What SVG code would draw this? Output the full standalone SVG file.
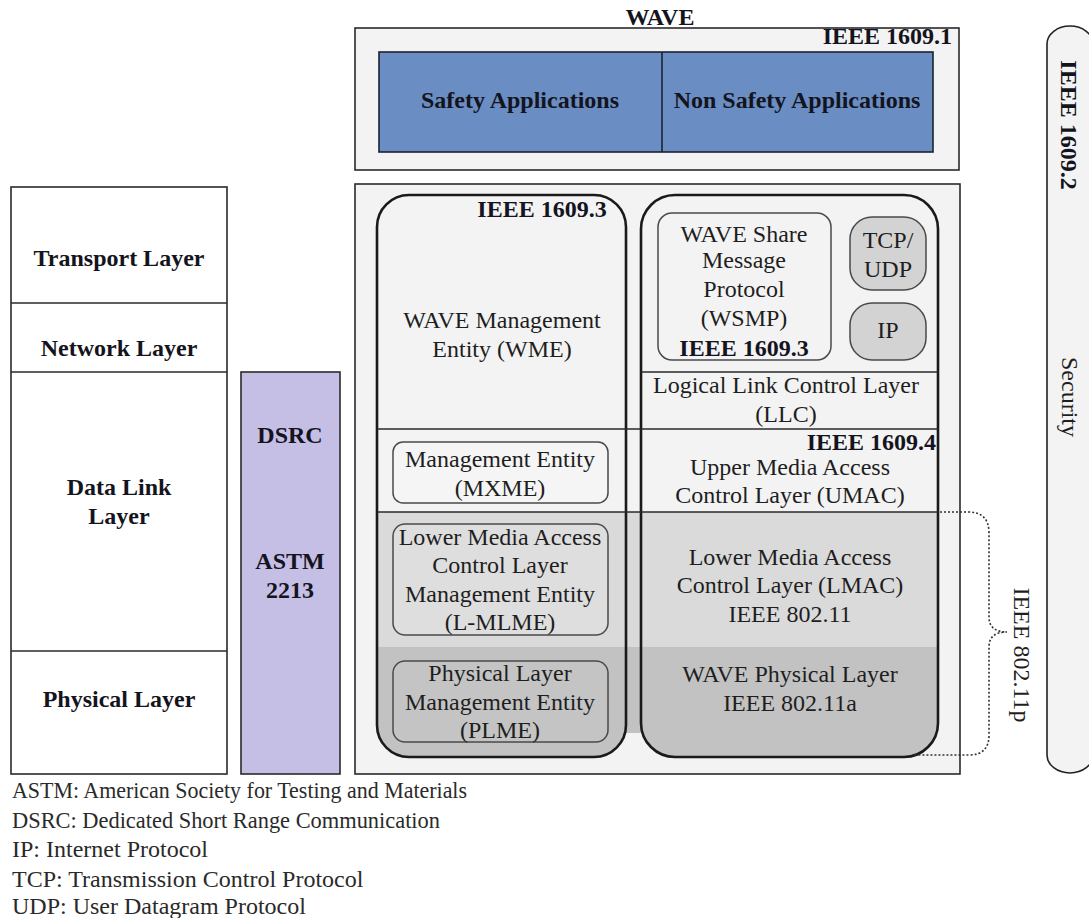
<svg xmlns="http://www.w3.org/2000/svg" width="1089" height="918" viewBox="0 0 1089 918">
  <style>
    text { font-family: "Liberation Serif", "Times New Roman", serif; font-size: 24px; fill: #1e1e1e; }
    .m { text-anchor: middle; }
    .e { text-anchor: end; }
    .b { font-weight: bold; fill: #141420; }
    .note { fill: #2a2a2a; }
    .panel { fill: #f3f3f3; stroke: #2a2a2a; stroke-width: 1.6; }
    .plain { fill: #ffffff; stroke: #2a2a2a; stroke-width: 1.6; }
    .stack { fill: none; stroke: #1a1a1a; stroke-width: 2.6; }
    .inner { stroke: #4a4a4a; stroke-width: 1.5; }
    .rule { stroke: #2a2a2a; stroke-width: 1.6; fill: none; }
  </style>
  <defs>
    <clipPath id="stackClip">
      <rect x="377" y="195" width="249" height="562" rx="32" ry="32"/>
      <rect x="641" y="195" width="297" height="562" rx="34" ry="34"/>
      <rect x="626" y="512" width="15" height="221"/>
    </clipPath>
  </defs>

  <rect width="1089" height="918" fill="#ffffff"/>

  <!-- OSI reference layers -->
  <g id="osi-layers">
    <rect class="plain" x="11" y="187" width="216" height="587"/>
    <line class="rule" x1="11" y1="303" x2="227" y2="303"/>
    <line class="rule" x1="11" y1="372" x2="227" y2="372"/>
    <line class="rule" x1="11" y1="651" x2="227" y2="651"/>
    <text class="m b" x="119" y="266">Transport Layer</text>
    <text class="m b" x="119" y="356">Network Layer</text>
    <text class="m b" x="119" y="495">Data Link</text>
    <text class="m b" x="119" y="524">Layer</text>
    <text class="m b" x="119" y="707">Physical Layer</text>
  </g>

  <!-- DSRC / ASTM column -->
  <g id="dsrc">
    <rect x="241" y="372" width="99" height="402" fill="#c5bfe6" stroke="#2a2a2a" stroke-width="1.6"/>
    <text class="m b" x="290" y="443">DSRC</text>
    <text class="m b" x="290" y="569">ASTM</text>
    <text class="m b" x="290" y="598">2213</text>
  </g>

  <!-- Application layer (IEEE 1609.1) -->
  <g id="wave-apps">
    <text class="m b" x="660" y="25">WAVE</text>
    <rect class="panel" x="355" y="28" width="604" height="142"/>
    <text class="e b" x="952" y="44" font-size="23">IEEE 1609.1</text>
    <rect x="379" y="52" width="554" height="100" fill="#6a8ec3" stroke="#1c2230" stroke-width="1.6"/>
    <line x1="662" y1="52" x2="662" y2="152" stroke="#1c2230" stroke-width="1.6"/>
    <text class="m b" x="520" y="108" font-size="20">Safety Applications</text>
    <text class="m b" x="797" y="108" font-size="20">Non Safety Applications</text>
  </g>

  <!-- Protocol stack -->
  <g id="wave-stack">
    <rect class="panel" x="355" y="184" width="605" height="590"/>
    <g clip-path="url(#stackClip)">
      <rect x="370" y="512" width="575" height="135" fill="#dadada"/>
      <rect x="370" y="647" width="575" height="115" fill="#c2c2c2"/>
    </g>
    <rect class="stack" x="377" y="195" width="249" height="562" rx="32" ry="32"/>
    <rect class="stack" x="641" y="195" width="297" height="562" rx="34" ry="34"/>
    <line class="rule" x1="377" y1="429" x2="938" y2="429"/>
    <line class="rule" x1="641" y1="372" x2="938" y2="372"/>
    <line class="rule" x1="377" y1="512" x2="938" y2="512"/>
  </g>

  <g id="wme">
    <text class="m b" x="542" y="217">IEEE 1609.3</text>
    <text class="m" x="502" y="328">WAVE Management</text>
    <text class="m" x="502" y="357">Entity (WME)</text>
  </g>

  <g id="mxme">
    <rect class="inner" x="393" y="442" width="215" height="61" rx="10" fill="#f5f5f5"/>
    <text class="m" x="500" y="467">Management Entity</text>
    <text class="m" x="500" y="496">(MXME)</text>
  </g>

  <g id="l-mlme">
    <rect class="inner" x="393" y="524" width="215" height="111" rx="12" fill="#dedede"/>
    <text class="m" x="500" y="545">Lower Media Access</text>
    <text class="m" x="500" y="573">Control Layer</text>
    <text class="m" x="500" y="602">Management Entity</text>
    <text class="m" x="500" y="630">(L-MLME)</text>
  </g>

  <g id="plme">
    <rect class="inner" x="393" y="661" width="215" height="81" rx="12" fill="#c4c4c4"/>
    <text class="m" x="500" y="681">Physical Layer</text>
    <text class="m" x="500" y="710">Management Entity</text>
    <text class="m" x="500" y="738">(PLME)</text>
  </g>

  <g id="wsmp">
    <rect class="inner" x="658" y="213" width="173" height="147" rx="14" fill="#f3f3f3"/>
    <text class="m" x="744" y="242">WAVE Share</text>
    <text class="m" x="744" y="268">Message</text>
    <text class="m" x="744" y="297">Protocol</text>
    <text class="m" x="744" y="326">(WSMP)</text>
    <text class="m b" x="744" y="356">IEEE 1609.3</text>
  </g>

  <g id="tcp-udp">
    <rect class="inner" x="850" y="217" width="76" height="73" rx="22" fill="#d3d3d3"/>
    <text class="m" x="888" y="248">TCP/</text>
    <text class="m" x="888" y="277">UDP</text>
  </g>

  <g id="ip">
    <rect class="inner" x="850" y="303" width="76" height="57" rx="22" fill="#d3d3d3"/>
    <text class="m" x="888" y="338">IP</text>
  </g>

  <g id="llc">
    <text class="m" x="786" y="393">Logical Link Control Layer</text>
    <text class="m" x="786" y="422">(LLC)</text>
  </g>

  <g id="umac">
    <text class="e b" x="936" y="450">IEEE 1609.4</text>
    <text class="m" x="790" y="475">Upper Media Access</text>
    <text class="m" x="790" y="503">Control Layer (UMAC)</text>
  </g>

  <g id="lmac">
    <text class="m" x="790" y="565">Lower Media Access</text>
    <text class="m" x="790" y="593">Control Layer (LMAC)</text>
    <text class="m" x="790" y="622">IEEE 802.11</text>
  </g>

  <g id="phy">
    <text class="m" x="790" y="682">WAVE Physical Layer</text>
    <text class="m" x="790" y="711">IEEE 802.11a</text>
  </g>

  <!-- Brace grouping the 802.11p layers -->
  <g id="connectors">
    <path d="M 940 512 H 968 Q 989 512 989 533 V 617 Q 989 632 1007 632 Q 989 632 989 647 V 735 Q 989 755 969 755 H 912" fill="none" stroke="#333" stroke-width="1.6" stroke-dasharray="2 2"/>
  </g>
  <g id="ieee-80211p">
    <text class="m" transform="translate(1022,655) rotate(90)" dy=".35em">IEEE 802.11p</text>
  </g>

  <!-- Security (IEEE 1609.2) -->
  <g id="security">
    <rect x="1047" y="26" width="46" height="747" rx="23" ry="18" fill="#f3f3f3" stroke="#222" stroke-width="1.6"/>
    <text class="m b" transform="translate(1069,125) rotate(90)" dy=".35em">IEEE 1609.2</text>
    <text class="m" transform="translate(1070,397) rotate(90)" dy=".35em">Security</text>
  </g>

  <!-- Abbreviations -->
  <g id="legend">
    <text class="note" x="12" y="798" textLength="455" lengthAdjust="spacingAndGlyphs">ASTM: American Society for Testing and Materials</text>
    <text class="note" x="12" y="828" textLength="428" lengthAdjust="spacingAndGlyphs">DSRC: Dedicated Short Range Communication</text>
    <text class="note" x="12" y="857">IP: Internet Protocol</text>
    <text class="note" x="12" y="887">TCP: Transmission Control Protocol</text>
    <text class="note" x="12" y="914">UDP: User Datagram Protocol</text>
  </g>
</svg>
